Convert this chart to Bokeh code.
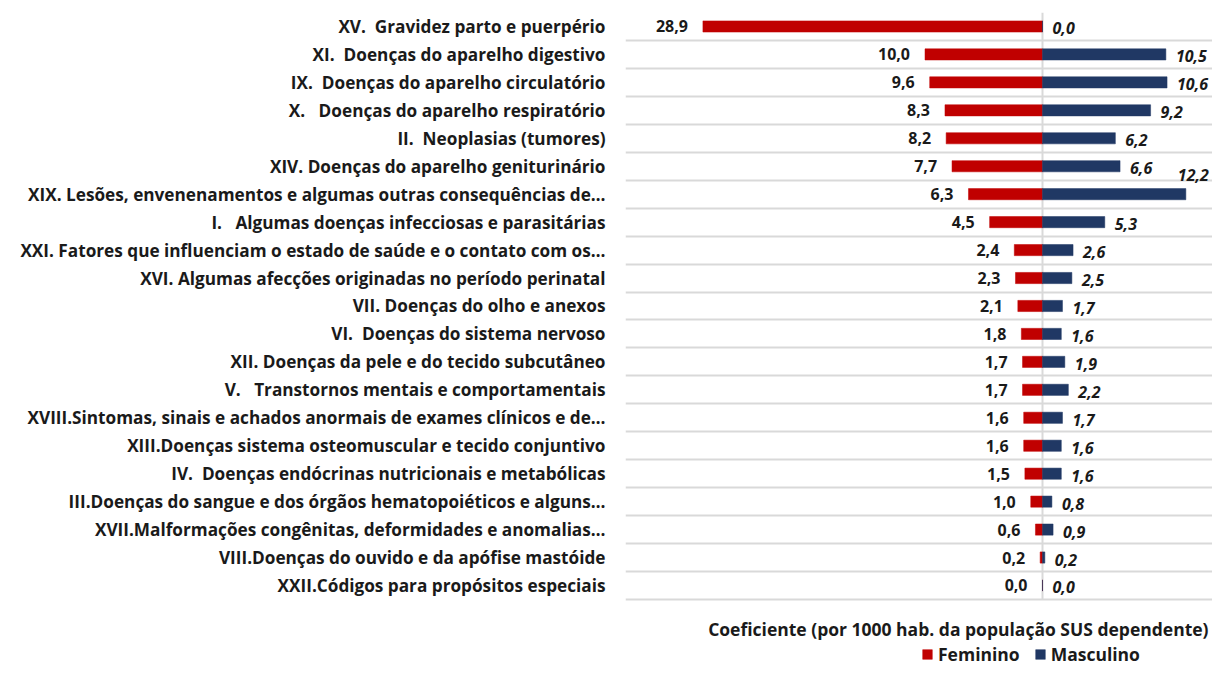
from bokeh.plotting import figure
from bokeh.models import (Range1d, FixedTicker, Legend, LegendItem, Label,
                          ColumnDataSource)
from bokeh.core.properties import value
from bokeh.embed import file_html
from bokeh.resources import INLINE

S2 = "\u00a0 "        # two-space gap (non-collapsing)
S3 = "\u00a0\u00a0 "  # three-space gap

categories = [
    "XV." + S2 + "Gravidez parto e puerpério",
    "XI." + S2 + "Doenças do aparelho digestivo",
    "IX." + S2 + "Doenças do aparelho circulatório",
    "X." + S3 + "Doenças do aparelho respiratório",
    "II." + S2 + "Neoplasias (tumores)",
    "XIV. Doenças do aparelho geniturinário",
    "XIX. Lesões, envenenamentos e algumas outras consequências de…",
    "I." + S3 + "Algumas doenças infecciosas e parasitárias",
    "XXI. Fatores que influenciam o estado de saúde e o contato com os…",
    "XVI. Algumas afecções originadas no período perinatal",
    "VII. Doenças do olho e anexos",
    "VI." + S2 + "Doenças do sistema nervoso",
    "XII. Doenças da pele e do tecido subcutâneo",
    "V." + S3 + "Transtornos mentais e comportamentais",
    "XVIII.Sintomas, sinais e achados anormais de exames clínicos e de…",
    "XIII.Doenças sistema osteomuscular e tecido conjuntivo",
    "IV." + S2 + "Doenças endócrinas nutricionais e metabólicas",
    "III.Doenças do sangue e dos órgãos hematopoiéticos e alguns…",
    "XVII.Malformações congênitas, deformidades e anomalias…",
    "VIII.Doenças do ouvido e da apófise mastóide",
    "XXII.Códigos para propósitos especiais",
]
feminino = [28.9, 10.0, 9.6, 8.3, 8.2, 7.7, 6.3, 4.5, 2.4, 2.3, 2.1,
            1.8, 1.7, 1.7, 1.6, 1.6, 1.5, 1.0, 0.6, 0.2, 0.0]
masculino = [0.0, 10.5, 10.6, 9.2, 6.2, 6.6, 12.2, 5.3, 2.6, 2.5, 1.7,
             1.6, 1.9, 2.2, 1.7, 1.6, 1.6, 0.8, 0.9, 0.2, 0.0]
series_names = ["Feminino", "Masculino"]
axis_title = "Coeficiente (por 1000 hab. da população SUS dependente)"

RED = "#C00000"
BLUE = "#203864"
GRID = "#d9d9d9"
TXT = "#1a1a1a"
FONT = "Open Sans"

n = len(categories)
ypos = [n - i - 0.5 for i in range(n)]

W, H = 1212, 667
LEFT, TOP = 625, 12
CENTER = 1042                   # pixel position of the zero line
PPU = 11.75                     # pixels per unit on x
X0 = -(CENTER - LEFT) / PPU
X1 = (W - CENTER) / PPU
ROW = 27.95
Y1 = float(n)
Y0 = Y1 - (H - TOP) / ROW

p = figure(width=W, height=H, output_backend="svg", toolbar_location=None,
           x_range=Range1d(X0, X1), y_range=Range1d(Y0, Y1),
           x_axis_location=None, min_border_left=LEFT, min_border_right=0,
           min_border_top=TOP, min_border_bottom=0)
p.outline_line_color = None
p.background_fill_color = "white"
p.border_fill_color = "white"

# y axis labels (category names)
p.yaxis.ticker = FixedTicker(ticks=ypos)
p.yaxis.major_label_overrides = {y: c for y, c in zip(ypos, categories)}
p.yaxis.axis_line_color = None
p.yaxis.major_tick_line_color = None
p.yaxis.minor_tick_line_color = None
p.yaxis.major_tick_in = 0
p.yaxis.major_tick_out = 0
p.yaxis.major_label_standoff = 20
p.yaxis.major_label_text_font = FONT
p.yaxis.major_label_text_font_style = "bold"
p.yaxis.major_label_text_font_size = "17.2px"
p.yaxis.major_label_text_color = TXT

p.xgrid.visible = False
p.ygrid.ticker = FixedTicker(ticks=list(range(n + 1)))
p.ygrid.grid_line_color = GRID
p.ygrid.grid_line_width = 2

# centre (value axis) line
p.segment(x0=[0], y0=[0], x1=[0], y1=[n], line_color=GRID, line_width=2)

src = ColumnDataSource(dict(y=ypos, fem=[-v for v in feminino], masc=masculino,
                            zero=[0] * n))
r_f = p.hbar(y="y", left="fem", right="zero", height=0.4, source=src,
             fill_color=RED, line_color=RED, line_width=0.5)
r_m = p.hbar(y="y", left="zero", right="masc", height=0.4, source=src,
             fill_color=BLUE, line_color=BLUE, line_width=0.5)

fmt = lambda v: f"{v:.1f}".replace(".", ",")

p.text(x=[-v for v in feminino], y=ypos, text=[fmt(v) for v in feminino],
       text_align="right", text_baseline="middle", x_offset=-15, y_offset=0,
       text_font=value(FONT), text_font_style="bold", text_font_size="16px",
       text_color=TXT)

# masculine labels: if a label would run past the plot's right edge, lift it above the bar
GAP = 10
LBL_W = 32
m_xoff, m_yoff = [], []
for v in masculino:
    if v * PPU + GAP + LBL_W > X1 * PPU - 2:
        m_xoff.append(-8)
        m_yoff.append(-19)
    else:
        m_xoff.append(GAP)
        m_yoff.append(2)
p.text(x=masculino, y=ypos, text=[fmt(v) for v in masculino],
       text_align="left", text_baseline="middle", x_offset=m_xoff, y_offset=m_yoff,
       text_font=value(FONT), text_font_style="bold italic", text_font_size="16px",
       text_color=TXT)

p.add_layout(Label(x=X1, y=-1.04, x_offset=-4, text=axis_title, text_align="right",
                   text_baseline="middle", text_font=FONT, text_font_style="bold",
                   text_font_size="17.5px", text_color=TXT))

legend = Legend(items=[LegendItem(label=series_names[0], renderers=[r_f]),
                       LegendItem(label=series_names[1], renderers=[r_m])],
                orientation="horizontal", location=(296, 1),
                glyph_width=12, glyph_height=12, label_standoff=5, spacing=14,
                padding=0, margin=0, border_line_color=None,
                background_fill_alpha=0, label_text_font=FONT,
                label_text_font_style="bold", label_text_font_size="17.5px",
                label_text_color=TXT)
p.add_layout(legend)

open("out.html", "w").write(file_html(p, INLINE))
